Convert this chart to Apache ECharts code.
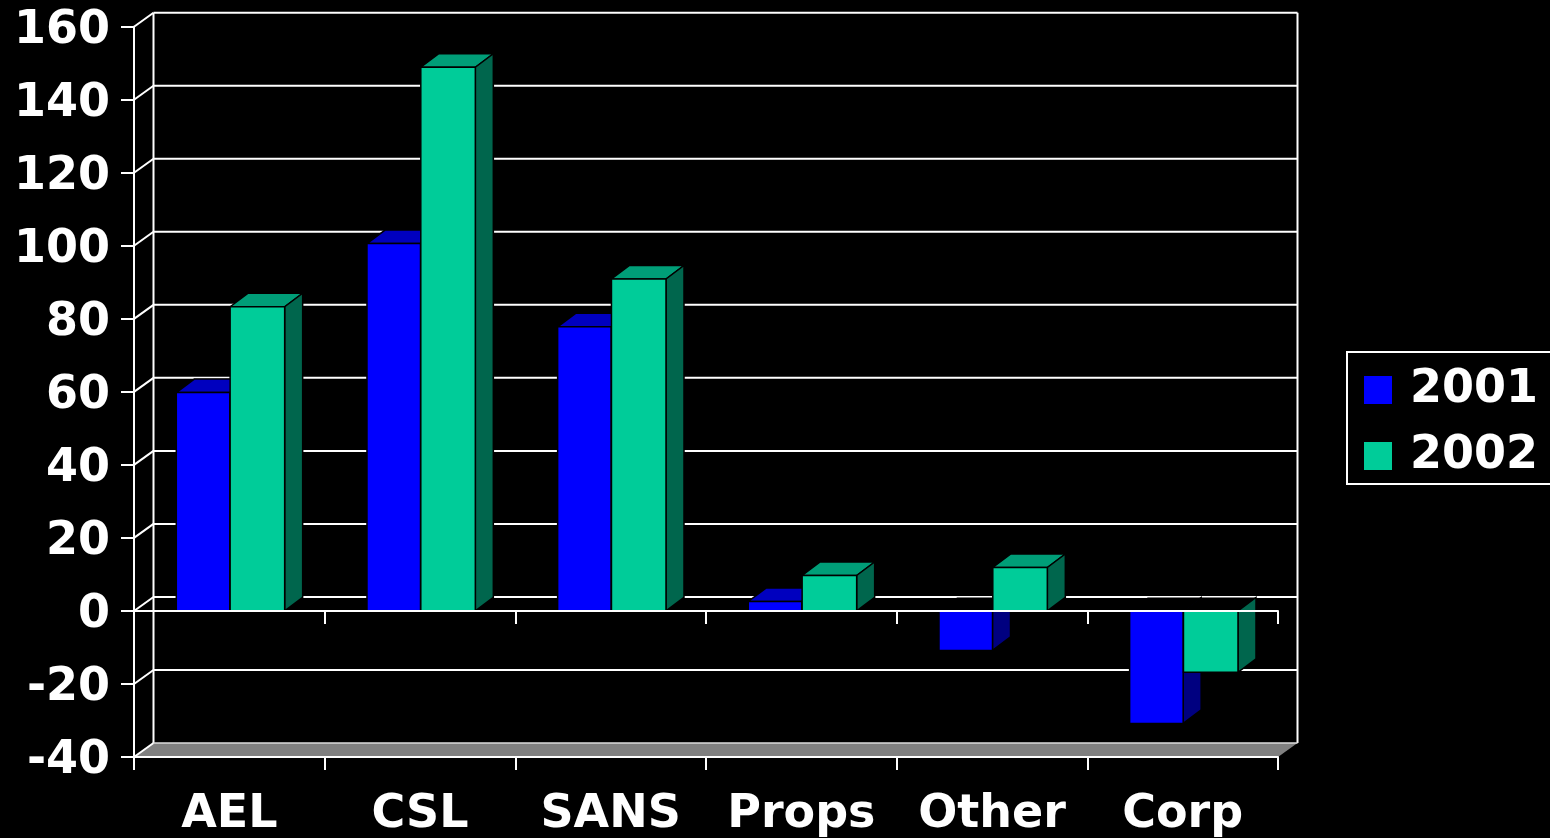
<!DOCTYPE html>
<html>
<head>
<meta charset="utf-8">
<style>html,body{margin:0;padding:0;background:#000;overflow:hidden}#c{width:1550px;height:838px}</style>
<script src="https://cdn.jsdelivr.net/npm/echarts@6/dist/echarts.min.js"></script>
</head>
<body>
<div id="c"></div>
<script>
var categories = ['AEL', 'CSL', 'SANS', 'Props', 'Other', 'Corp'];
var values2001 = [59.8, 100.6, 77.8, 2.6, -10.8, -30.8];
var values2002 = [83.3, 148.9, 90.9, 9.7, 11.9, -16.8];
var yTicks = [-40, -20, 0, 20, 40, 60, 80, 100, 120, 140, 160];
var seriesNames = ['2001', '2002'];

var FONT = '"DejaVu Sans"';
var WALL_DX = 19.5, WALL_DY = 14;
var BAR_DX = 18, BAR_DY = 13.5;
var palette = [
  {front: '#0000FF', top: '#0000BF', side: '#000080'},
  {front: '#00CC99', top: '#009E78', side: '#00664D'}
];
var white = {stroke: '#fff', lineWidth: 2, fill: null};

function line(x1, y1, x2, y2, style) {
  return {type: 'line', shape: {x1: x1, y1: y1, x2: x2, y2: y2}, style: style || white};
}
function poly(points, fill, stroke) {
  return {type: 'polygon', shape: {points: points},
    style: {fill: fill, stroke: stroke || null, lineWidth: stroke ? 1.5 : 0}};
}

function renderWall(params, api) {
  var cs = params.coordSys;
  var v = api.value(1);
  var y = api.coord([0, v])[1];
  var x0 = cs.x, x1 = cs.x + cs.width;
  var kids = [];
  if (v === yTicks[0]) {
    kids.push(poly([[x0, y], [x0 + WALL_DX, y - WALL_DY], [x1 + WALL_DX, y - WALL_DY], [x1, y]], '#808080'));
    kids.push(line(x0 + WALL_DX, cs.y - WALL_DY, x0 + WALL_DX, y - WALL_DY));
    kids.push(line(x1 + WALL_DX, cs.y - WALL_DY, x1 + WALL_DX, y - WALL_DY));
  }
  kids.push(line(x0, y, x0 + WALL_DX, y - WALL_DY));
  kids.push(line(x0 + WALL_DX, y - WALL_DY, x1 + WALL_DX, y - WALL_DY,
    v === yTicks[0] ? {stroke: '#ddd', lineWidth: 1.5} : white));
  return {type: 'group', children: kids};
}

function makeRenderBar(sIdx) {
  return function (params, api) {
    var cat = api.value(0), v = api.value(1);
    var c = palette[sIdx];
    var center = api.coord([cat, 0]);
    var end = api.coord([cat, v]);
    var band = api.size([1, 0])[0];
    var w = band * 0.286 - (sIdx === 0 ? 1 : 0);
    var xl = center[0] + (sIdx === 0 ? -w + 0.5 : 0.8);
    var xr = xl + w;
    var yBase = center[1], yEnd = end[1];
    var yTop = Math.min(yBase, yEnd), yBot = Math.max(yBase, yEnd);
    var kids = [];
    kids.push(poly([[xl, yTop], [xl + BAR_DX, yTop - BAR_DY], [xr + BAR_DX, yTop - BAR_DY], [xr, yTop]],
      v >= 0 ? c.top : '#000', v >= 0 ? '#000' : null));
    kids.push(poly([[xr, yTop], [xr + BAR_DX, yTop - BAR_DY], [xr + BAR_DX, yBot - BAR_DY], [xr, yBot]], c.side, '#000'));
    kids.push(poly([[xl, yTop], [xr, yTop], [xr, yBot], [xl, yBot]], c.front, '#000'));
    return {type: 'group', children: kids};
  };
}

function barData(arr) { return arr.map(function (v, i) { return [i, v]; }); }

var chart = echarts.init(document.getElementById('c'), null, {renderer: 'canvas'});
chart.setOption({
  animation: false,
  backgroundColor: '#000',
  grid: {left: 134, top: 26.7, width: 1144, height: 730.3, containLabel: false},
  legend: {
    left: 1347, top: 352, orient: 'vertical',
    padding: [15, 17, 5, 17],
    itemWidth: 28, itemHeight: 28, itemGap: 20,
    borderColor: '#fff', borderWidth: 2,
    data: seriesNames.map(function (n, i) {
      return {name: n, icon: 'rect', itemStyle: {color: palette[i].front, borderWidth: 0}};
    }),
    textStyle: {color: '#fff', fontFamily: FONT, fontWeight: 'bold', fontSize: 46, padding: [0, 0, 0, 13]}
  },
  xAxis: [
    {type: 'category', data: categories, position: 'bottom', z: 5,
      axisLine: {onZero: false, lineStyle: {color: '#fff', width: 2}},
      axisTick: {show: true, length: 13, lineStyle: {color: '#fff', width: 2}},
      axisLabel: {show: true, interval: 0, color: '#fff', fontFamily: FONT, fontWeight: 'bold', fontSize: 46, margin: 35},
      splitLine: {show: false}},
    {type: 'category', data: categories, position: 'bottom', z: 5,
      axisLine: {onZero: true, lineStyle: {color: '#fff', width: 2}},
      axisTick: {show: true, length: 13, lineStyle: {color: '#fff', width: 2}},
      axisLabel: {show: false},
      splitLine: {show: false}}
  ],
  yAxis: {
    type: 'value', min: yTicks[0], max: yTicks[yTicks.length - 1], interval: 20, z: 5,
    axisLine: {show: true, onZero: false, lineStyle: {color: '#fff', width: 2}},
    axisTick: {show: true, length: 13, lineStyle: {color: '#fff', width: 2}},
    axisLabel: {color: '#fff', fontFamily: FONT, fontWeight: 'bold', fontSize: 46, margin: 24,
      verticalAlign: 'top', padding: [-19, 0, 0, 0]},
    splitLine: {show: false}
  },
  series: [
    {type: 'custom', name: 'wall', z: 1, silent: true, clip: false,
      coordinateSystem: 'cartesian2d', xAxisIndex: 0, yAxisIndex: 0,
      data: yTicks.map(function (t) { return [0, t]; }),
      encode: {x: 0, y: 1}, renderItem: renderWall},
    {type: 'custom', name: seriesNames[0], z: 2, clip: false, xAxisIndex: 0, yAxisIndex: 0,
      data: barData(values2001), encode: {x: 0, y: 1}, renderItem: makeRenderBar(0),
      itemStyle: {color: palette[0].front}},
    {type: 'custom', name: seriesNames[1], z: 3, clip: false, xAxisIndex: 0, yAxisIndex: 0,
      data: barData(values2002), encode: {x: 0, y: 1}, renderItem: makeRenderBar(1),
      itemStyle: {color: palette[1].front}}
  ]
});
</script>
</body>
</html>
